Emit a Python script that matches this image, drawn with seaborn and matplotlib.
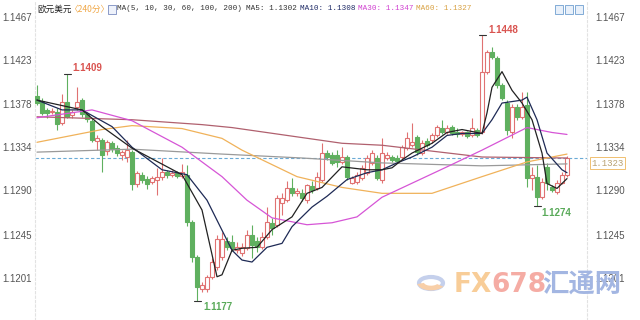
import matplotlib
matplotlib.use("Agg")
import matplotlib.pyplot as plt
from matplotlib.patches import Rectangle, Circle, Wedge
import matplotlib.transforms as mtransforms
import numpy as np
import pandas as pd
import seaborn as sns

# ---------------- data (EUR/USD, 240-minute candles) ----------------
opens = [1.1386,1.1381,1.1372,1.1370,1.1370,1.1359,1.1380,1.1367,1.1375,1.1382,
         1.1368,1.1361,1.1340,1.1341,1.1330,1.1338,1.1333,1.1326,1.1324,1.1329,
         1.1297,1.1306,1.1302,1.1299,1.1301,1.1304,1.1309,1.1306,1.1308,1.1305,
         1.1306,1.1258,1.1222,1.1189,1.1189,1.1202,1.1212,1.1222,1.1238,1.1237,
         1.1229,1.1226,1.1231,1.1245,1.1238,1.1232,1.1243,1.1257,1.1255,1.1277,
         1.1280,1.1292,1.1287,1.1287,1.1280,1.1294,1.1292,1.1301,1.1328,1.1326,
         1.1326,1.1319,1.1324,1.1298,1.1299,1.1303,1.1308,1.1318,1.1323,1.1301,
         1.1323,1.1324,1.1323,1.1324,1.1333,1.1336,1.1344,1.1328,1.1340,1.1341,
         1.1346,1.1354,1.1349,1.1355,1.1350,1.1347,1.1349,1.1346,1.1352,1.1349,
         1.1411,1.1431,1.1425,1.1397,1.1379,1.1349,1.1375,1.1365,1.1377,1.1303,
         1.1304,1.1283,1.1314,1.1293,1.1288,1.1298,1.1306]
closes = [1.1379,1.1369,1.1369,1.1371,1.1358,1.1380,1.1365,1.1370,1.1380,1.1368,
          1.1363,1.1341,1.1343,1.1326,1.1339,1.1332,1.1328,1.1329,1.1331,1.1296,
          1.1308,1.1301,1.1297,1.1303,1.1304,1.1309,1.1306,1.1308,1.1305,1.1309,
          1.1258,1.1222,1.1192,1.1194,1.1202,1.1217,1.1240,1.1240,1.1232,1.1231,
          1.1232,1.1232,1.1245,1.1234,1.1232,1.1243,1.1258,1.1252,1.1282,1.1282,
          1.1292,1.1287,1.1289,1.1282,1.1295,1.1290,1.1304,1.1328,1.1324,1.1318,
          1.1319,1.1324,1.1304,1.1303,1.1306,1.1313,1.1323,1.1328,1.1303,1.1328,
          1.1326,1.1321,1.1320,1.1334,1.1343,1.1339,1.1329,1.1338,1.1336,1.1346,
          1.1355,1.1349,1.1354,1.1348,1.1347,1.1349,1.1345,1.1354,1.1346,1.1411,
          1.1431,1.1426,1.1397,1.1384,1.1352,1.1375,1.1365,1.1375,1.1303,1.1306,
          1.1283,1.1299,1.1298,1.1290,1.1298,1.1306,1.1323]
highs = [1.1397,1.1384,1.1374,1.1374,1.1374,1.1388,1.1409,1.1372,1.1395,1.1384,
         1.1370,1.1364,1.1346,1.1343,1.1341,1.1340,1.1336,1.1331,1.1341,1.1331,
         1.1310,1.1309,1.1305,1.1305,1.1313,1.1323,1.1311,1.1311,1.1310,1.1317,
         1.1316,1.1260,1.1224,1.1197,1.1204,1.1221,1.1245,1.1248,1.1242,1.1245,
         1.1237,1.1236,1.1250,1.1255,1.1242,1.1248,1.1273,1.1262,1.1285,1.1287,
         1.1300,1.1303,1.1292,1.1291,1.1297,1.1300,1.1309,1.1338,1.1331,1.1329,
         1.1331,1.1334,1.1326,1.1305,1.1309,1.1316,1.1326,1.1331,1.1326,1.1343,
         1.1329,1.1326,1.1326,1.1336,1.1349,1.1359,1.1346,1.1341,1.1343,1.1348,
         1.1357,1.1362,1.1357,1.1357,1.1354,1.1351,1.1351,1.1364,1.1354,1.1448,
         1.1433,1.1436,1.1427,1.1399,1.1382,1.1378,1.1378,1.1390,1.1390,1.1314,
         1.1316,1.1303,1.1318,1.1295,1.1301,1.1309,1.1325]
lows = [1.1377,1.1367,1.1364,1.1368,1.1352,1.1357,1.1364,1.1364,1.1372,1.1365,
        1.1360,1.1339,1.1331,1.1309,1.1326,1.1329,1.1325,1.1321,1.1319,1.1290,
        1.1293,1.1298,1.1291,1.1296,1.1285,1.1301,1.1303,1.1304,1.1303,1.1303,
        1.1254,1.1217,1.1177,1.1186,1.1186,1.1200,1.1209,1.1219,1.1229,1.1228,
        1.1226,1.1223,1.1229,1.1221,1.1227,1.1230,1.1240,1.1245,1.1253,1.1265,
        1.1278,1.1284,1.1284,1.1279,1.1277,1.1287,1.1290,1.1299,1.1321,1.1316,
        1.1314,1.1317,1.1301,1.1296,1.1297,1.1301,1.1306,1.1316,1.1301,1.1298,
        1.1321,1.1319,1.1318,1.1322,1.1331,1.1334,1.1326,1.1326,1.1334,1.1338,
        1.1344,1.1347,1.1347,1.1346,1.1344,1.1345,1.1343,1.1344,1.1344,1.1347,
        1.1409,1.1424,1.1394,1.1382,1.1346,1.1343,1.1362,1.1363,1.1293,1.1290,
        1.1274,1.1281,1.1290,1.1288,1.1286,1.1296,1.1304]

# moving averages (candle index, value)
ma5_idx = [0,9,13,19,29,33,36,37,39,41,44,47,51,54,57,61,66,69,71,73,75,79,82,85,89,90,91,93,95,97,99,101,102,104,106]
ma5_val = [1.1382,1.1372,1.1355,1.1333,1.1306,1.1270,1.1202,1.1204,1.1229,1.1231,
           1.1232,1.1250,1.1263,1.1287,1.1293,1.1314,1.1311,1.1311,1.1313,1.1321,
           1.1328,1.1338,1.1349,1.1352,1.1348,1.1369,1.1395,1.1411,1.1392,1.1379,
           1.1362,1.1328,1.1297,1.1292,1.1302]
ma10_idx = [0,5,9,15,19,25,30,34,39,41,43,46,49,51,55,58,62,66,69,72,75,79,82,85,89,91,93,97,98,100,102,105,106]
ma10_val = [1.1382,1.1372,1.1372,1.1355,1.1334,1.1311,1.1306,1.1280,1.1229,1.1219,
            1.1217,1.1232,1.1236,1.1253,1.1273,1.1284,1.1301,1.1308,1.1311,1.1318,
            1.1324,1.1334,1.1346,1.1348,1.1348,1.1362,1.1379,1.1382,1.1385,1.1362,
            1.1328,1.1311,1.1308]
ma30_idx = [0,11,19,29,37,42,47,54,59,64,69,82,89,98,103,106]
ma30_val = [1.1364,1.1372,1.1361,1.1334,1.1304,1.1280,1.1262,1.1255,1.1257,1.1263,
            1.1283,1.1314,1.1331,1.1354,1.1349,1.1347]
ma60_idx = [0,13,19,29,37,41,52,61,69,79,89,98,106]
ma60_val = [1.1339,1.1352,1.1356,1.1353,1.1343,1.1331,1.1304,1.1293,1.1287,1.1287,
            1.1304,1.1319,1.1327]
ma100_idx = [0,19,33,39,61,69,89,106]
ma100_val = [1.1365,1.1362,1.1357,1.1354,1.1338,1.1336,1.1324,1.1323]
ma200_idx = [0,19,37,53,69,89,106]
ma200_val = [1.1329,1.1332,1.1327,1.1323,1.1318,1.1315,1.1317]

yticks = [1.1467, 1.1423, 1.1378, 1.1334, 1.1290, 1.1245, 1.1201]
last_price = 1.1323
marks = [(6, 1.1409, "high"), (89, 1.1448, "high"), (32, 1.1177, "low"), (100, 1.1274, "low")]

# ---------------- styling ----------------
sns.set_theme(style="white")
plt.rcParams["font.family"] = ["Liberation Sans", "Noto Sans CJK SC", "DejaVu Sans"]

W, H = 640, 320
fig = plt.figure(figsize=(6.4, 3.2), dpi=100)
fig.patch.set_facecolor("white")
ax = fig.add_axes([35 / W, 0, 552 / W, 1])
ax.set_facecolor("white")

UP_EDGE = "#e07272"
DOWN = "#5fb05f"

df = pd.DataFrame({"open": opens, "close": closes, "high": highs, "low": lows})
df["idx"] = np.arange(len(df))
df["up"] = df["close"] >= df["open"]

for r in df.itertuples():
    col = UP_EDGE if r.up else DOWN
    ax.vlines(r.idx, r.low, r.high, color=col, lw=0.8, zorder=2)
    bottom = min(r.open, r.close)
    height = max(abs(r.close - r.open), 0.00006)
    ax.bar(r.idx, height, bottom=bottom, width=0.72,
           facecolor="white" if r.up else DOWN, edgecolor=col, linewidth=0.8, zorder=3)

ma_sets = [
    (ma200_idx, ma200_val, "#9a9a9a"),
    (ma100_idx, ma100_val, "#b0606e"),
    (ma60_idx, ma60_val, "#f0b25a"),
    (ma30_idx, ma30_val, "#d655d6"),
    (ma10_idx, ma10_val, "#1e2a55"),
    (ma5_idx, ma5_val, "#222222"),
]
for xi, yv, c in ma_sets:
    sns.lineplot(x=xi, y=yv, ax=ax, color=c, lw=0.9, legend=False, zorder=4,
                 estimator=None, sort=False)

ax.axhline(last_price, color="#6aaad6", lw=0.8, ls=(0, (3, 2)), zorder=1)

# high / low markers
for i, v, kind in marks:
    ax.plot([i - 0.7, i + 0.7], [v, v], color="#333333", lw=0.8, zorder=5)
    if kind == "high":
        off = (5, 6) if i == 6 else (6, 5)
        ax.annotate(f"{v:.4f}", xy=(i, v), xytext=off, textcoords="offset pixels",
                    color="#d9534f", fontsize=7, fontweight="bold", va="center", ha="left")
    else:
        off = (6, -6) if i == 32 else (4, -7)
        ax.annotate(f"{v:.4f}", xy=(i, v), xytext=off, textcoords="offset pixels",
                    color="#5aaa5a", fontsize=7, fontweight="bold", va="center", ha="left")

ax.set_xlim(-0.4, -0.4 + 552 / 5)
ax.set_ylim(1.1484 - 0.0001019 * H, 1.1484)
ax.set_xticks([])
ax.set_yticks(yticks)
ax.set_yticklabels([f"{t:.4f}" for t in yticks])
ax.tick_params(axis="y", left=True, right=True, labelleft=True, labelright=True,
               length=0, labelsize=7, labelcolor="#555555", pad=2)
shift = mtransforms.ScaledTranslation(6 / 100, 0, fig.dpi_scale_trans)
for t in ax.yaxis.get_major_ticks():
    t.label2.set_transform(t.label2.get_transform() + shift)

for s in ["top", "bottom"]:
    ax.spines[s].set_visible(False)
for s in ["left", "right"]:
    ax.spines[s].set_color("#e2e2e2")
    ax.spines[s].set_linewidth(0.8)
    ax.spines[s].set_linestyle((0, (2, 2)))
ax.set_ylabel("")
ax.set_xlabel("")

# ---------------- header ----------------
def ftext(x, y, s, **kw):
    return fig.text(x / W, 1 - y / H, s, va="center", ha="left", **kw)

ftext(37, 9, "欧元美元", fontsize=6.2, color="#222222", family=["Noto Sans CJK SC"])
ftext(70, 9, "〈240分〉", fontsize=6.2, color="#f0a848", family=["Noto Sans CJK SC"])
fig.patches.append(Rectangle((108 / W, 1 - 14 / H), 8 / W, 9 / H, transform=fig.transFigure,
                             facecolor="#eef2fb", edgecolor="#7a8cc0", lw=0.6))
mono = ["Liberation Mono", "DejaVu Sans Mono"]
ftext(117, 9, "MA(5, 10, 30, 60, 100, 200)", fontsize=5.5, color="#333333", family=mono)
ftext(246, 9, "MA5: 1.1302", fontsize=5.5, color="#333333", family=mono)
ftext(300, 9, "MA10: 1.1308", fontsize=5.5, color="#1e2a66", family=mono)
ftext(358, 9, "MA30: 1.1347", fontsize=5.5, color="#d040d0", family=mono)
ftext(416, 9, "MA60: 1.1327", fontsize=5.5, color="#d8a040", family=mono)
for xb in (555, 565, 575):
    fig.patches.append(Rectangle((xb / W, 1 - 14 / H), 8 / W, 9 / H, transform=fig.transFigure,
                                 facecolor="#e8f0fa", edgecolor="#6f9fd0", lw=0.6))

# last price box
fig.text(591 / W, 1 - 163 / H, f"{last_price:.4f}", fontsize=6.5, color="#b8a070",
         va="center", ha="left", family=mono,
         bbox=dict(boxstyle="square,pad=0.15", facecolor="white", edgecolor="#f0c070", lw=0.7))

# watermark
fig.patches.append(Circle((431 / W, 1 - 283 / H), 12 / W, transform=fig.transFigure,
                          facecolor="none", edgecolor="#c5d0ec", lw=3))
fig.patches.append(Wedge((431 / W, 1 - 283 / H), 12 / W, 200, 320, transform=fig.transFigure,
                         facecolor="none", edgecolor="#f8cfa8", lw=2, width=0.006))
ftext(454, 285, "FX", fontsize=19, fontweight="bold", color="#f8cd98", family=["DejaVu Sans"])
ftext(491, 285, "678", fontsize=19, fontweight="bold", color="#f5aca4", family=["DejaVu Sans"])
ftext(542, 285, "汇通网", fontsize=19, fontweight="bold", color="#a3b6e2", family=["Noto Sans CJK SC"])

fig.savefig("out.png", dpi=100, facecolor="white")
